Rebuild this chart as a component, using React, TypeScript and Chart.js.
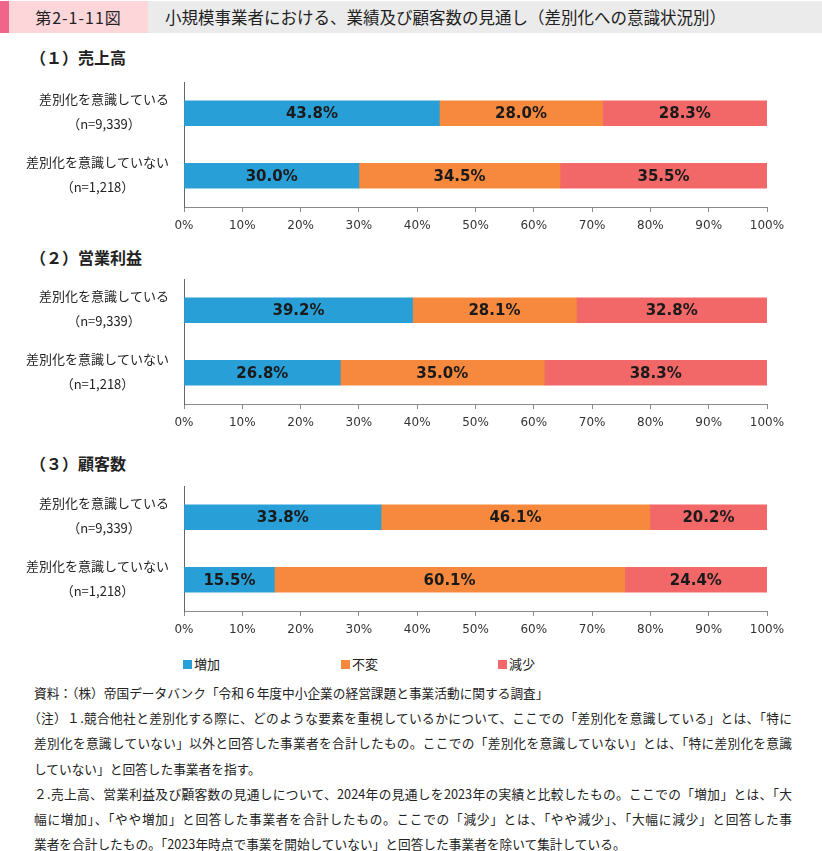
import React, { useEffect, useRef } from 'react';
import { Chart, registerables } from 'chart.js';

Chart.register(...registerables);

// ---------- data ----------
const categoryLabels = [
  ['差別化を意識している', '（n=9,339）'],
  ['差別化を意識していない', '（n=1,218）'],
];
const seriesNames = ['増加', '不変', '減少'];
const seriesColors = ['#289fd7', '#f6893d', '#f26767'];

const salesIncrease = [43.8, 30.0];
const salesFlat = [28.0, 34.5];
const salesDecrease = [28.3, 35.5];

const profitIncrease = [39.2, 26.8];
const profitFlat = [28.1, 35.0];
const profitDecrease = [32.8, 38.3];

const customersIncrease = [33.8, 15.5];
const customersFlat = [46.1, 60.1];
const customersDecrease = [20.2, 24.4];

const panelTitles = ['（１）売上高', '（２）営業利益', '（３）顧客数'];
const xTickMin = 0;
const xTickMax = 100;
const xTickStep = 10;

const figureNumber = '第2-1-11図';
const figureTitle = '小規模事業者における、業績及び顧客数の見通し（差別化への意識状況別）';

const noteLines = [
  '資料：（株）帝国データバンク「令和６年度中小企業の経営課題と事業活動に関する調査」',
  '（注）１.競合他社と差別化する際に、どのような要素を重視しているかについて、ここでの「差別化を意識している」とは、「特に',
  '差別化を意識していない」以外と回答した事業者を合計したもの。ここでの「差別化を意識していない」とは、「特に差別化を意識',
  'していない」と回答した事業者を指す。',
  '２.売上高、営業利益及び顧客数の見通しについて、2024年の見通しを2023年の実績と比較したもの。ここでの「増加」とは、「大',
  '幅に増加」、「やや増加」と回答した事業者を合計したもの。ここでの「減少」とは、「やや減少」、「大幅に減少」と回答した事',
  '業者を合計したもの。「2023年時点で事業を開始していない」と回答した事業者を除いて集計している。',
];
const justifiedNotes = [false, true, true, false, true, true, false];

// ---------- layout ----------
const W = 822;
const AREA_LEFT = 184;
const AREA_RIGHT = 767;
const PAD_TOP = 4;
const XAXIS_H = 32;
const CJK = '"Noto Sans CJK JP", "Noto Sans", sans-serif';
const LATIN = '"DejaVu Sans", Verdana, sans-serif';

const valueLabelPlugin = {
  id: 'valueLabels',
  afterDatasetsDraw(chart: any) {
    const ctx = chart.ctx;
    ctx.save();
    ctx.font = `bold 15px ${LATIN}`;
    ctx.fillStyle = '#1a1a1a';
    ctx.textAlign = 'center';
    ctx.textBaseline = 'middle';
    chart.data.datasets.forEach((ds: any, di: number) => {
      const meta = chart.getDatasetMeta(di);
      meta.data.forEach((el: any, i: number) => {
        const v = ds.data[i];
        const p = el.getProps(['x', 'y', 'base'], true);
        const right = Math.min(p.x, chart.chartArea.right);
        ctx.fillText(Number(v).toFixed(1) + '%', (right + p.base) / 2, p.y + 1);
      });
    });
    ctx.restore();
  },
};

const categoryLabelPlugin = {
  id: 'categoryLabels',
  afterDraw(chart: any) {
    const ctx = chart.ctx;
    const yScale = chart.scales.y;
    ctx.save();
    ctx.font = `13px ${CJK}`;
    ctx.fillStyle = '#222';
    ctx.textAlign = 'center';
    ctx.textBaseline = 'middle';
    (chart.data.labels as string[][]).forEach((lines, i) => {
      const cy = yScale.getPixelForValue(i);
      const bw = Math.max(...lines.map((l) => ctx.measureText(l).width));
      const cx = chart.chartArea.left - 15 - bw / 2;
      ctx.fillText(lines[0], cx, cy - 14);
      ctx.fillText(lines[1], cx, cy + 11);
    });
    ctx.restore();
  },
};

function BarPanel({ areaTop, areaBottom, values }: { areaTop: number; areaBottom: number; values: number[][] }) {
  const ref = useRef<HTMLCanvasElement | null>(null);
  const height = areaBottom - areaTop + PAD_TOP + XAXIS_H;
  useEffect(() => {
    if (!ref.current) return;
    const chart = new Chart(ref.current, {
      type: 'bar',
      data: {
        labels: categoryLabels as any,
        datasets: seriesNames.map((name, i) => ({
          label: name,
          data: values[i],
          backgroundColor: seriesColors[i],
          borderWidth: 0,
          barThickness: 25,
        })),
      },
      options: {
        indexAxis: 'y',
        responsive: false,
        maintainAspectRatio: false,
        animation: false,
        layout: { padding: { top: PAD_TOP, left: 0, right: W - AREA_RIGHT, bottom: 0 } },
        plugins: { legend: { display: false }, tooltip: { enabled: false } },
        scales: {
          x: {
            stacked: true,
            min: xTickMin,
            max: xTickMax,
            ticks: {
              stepSize: xTickStep,
              callback: (v: any) => `${v}%`,
              font: { family: LATIN, size: 12 },
              color: '#333',
              padding: 7,
              maxRotation: 0,
              autoSkip: false,
            },
            grid: { drawOnChartArea: false, drawTicks: true, tickLength: 5, color: '#8a8a8a' },
            border: { display: true, color: '#8a8a8a' },
            afterFit: (s: any) => {
              s.height = XAXIS_H;
            },
          },
          y: {
            stacked: true,
            ticks: { display: false },
            grid: { display: false },
            border: { display: true, color: '#666' },
            afterFit: (s: any) => {
              s.width = AREA_LEFT;
            },
          },
        },
      } as any,
      plugins: [valueLabelPlugin, categoryLabelPlugin],
    });
    return () => chart.destroy();
  }, []);
  return (
    <canvas
      ref={ref}
      width={W}
      height={height}
      style={{ position: 'absolute', left: 0, top: areaTop - PAD_TOP, width: W, height }}
    />
  );
}

const panels = [
  { titleY: 57, areaTop: 82, areaBottom: 207, values: [salesIncrease, salesFlat, salesDecrease] },
  { titleY: 257, areaTop: 279, areaBottom: 404, values: [profitIncrease, profitFlat, profitDecrease] },
  { titleY: 463, areaTop: 486, areaBottom: 611, values: [customersIncrease, customersFlat, customersDecrease] },
];
const legendX = [183, 341, 498];

export default function App() {
  return (
    <div
      style={{
        position: 'absolute',
        left: 0,
        top: 0,
        width: W,
        height: 851,
        background: '#fff',
        fontFamily: CJK,
        color: '#222',
        overflow: 'hidden',
      }}
    >
      {/* header */}
      <div style={{ position: 'absolute', left: 0, top: 1, width: W, height: 32, background: '#ebebeb' }} />
      <div style={{ position: 'absolute', left: 0, top: 1, width: 9, height: 32, background: '#f0668b' }} />
      <div
        style={{
          position: 'absolute',
          left: 9,
          top: 1,
          width: 139,
          height: 32,
          background: '#fdd6da',
          display: 'flex',
          alignItems: 'center',
          justifyContent: 'center',
          fontSize: 16,
          letterSpacing: 1,
        }}
      >
        {figureNumber}
      </div>
      <div
        style={{
          position: 'absolute',
          left: 165,
          top: 1,
          height: 32,
          display: 'flex',
          alignItems: 'center',
          fontSize: 16.5,
          whiteSpace: 'nowrap',
        }}
      >
        {figureTitle}
      </div>

      {panels.map((p, i) => (
        <React.Fragment key={i}>
          <div
            style={{
              position: 'absolute',
              left: 30,
              top: p.titleY - 12,
              height: 24,
              lineHeight: '24px',
              fontSize: 16,
              fontWeight: 'bold',
              whiteSpace: 'nowrap',
            }}
          >
            {panelTitles[i]}
          </div>
          <BarPanel areaTop={p.areaTop} areaBottom={p.areaBottom} values={p.values} />
        </React.Fragment>
      ))}

      {/* legend */}
      {seriesNames.map((name, i) => (
        <div
          key={name}
          style={{
            position: 'absolute',
            left: legendX[i],
            top: 663 - 10,
            height: 20,
            display: 'flex',
            alignItems: 'center',
            fontSize: 13,
            whiteSpace: 'nowrap',
          }}
        >
          <span style={{ display: 'inline-block', width: 9, height: 9, background: seriesColors[i], marginRight: 2, marginTop: 3 }} />
          {name}
        </div>
      ))}

      {/* notes */}
      {noteLines.map((line, i) => {
        const left = i === 1 ? 28 : 34;
        return (
          <div
            key={i}
            style={{
              position: 'absolute',
              left,
              top: 693 + i * 25.2 - 10,
              height: 20,
              lineHeight: '20px',
              width: justifiedNotes[i] ? 792 - left : undefined,
              fontSize: 12.7,
              whiteSpace: 'nowrap',
              textAlign: justifiedNotes[i] ? 'justify' : 'left',
              textAlignLast: justifiedNotes[i] ? 'justify' : 'auto',
            } as any}
          >
            {line}
          </div>
        );
      })}
    </div>
  );
}
